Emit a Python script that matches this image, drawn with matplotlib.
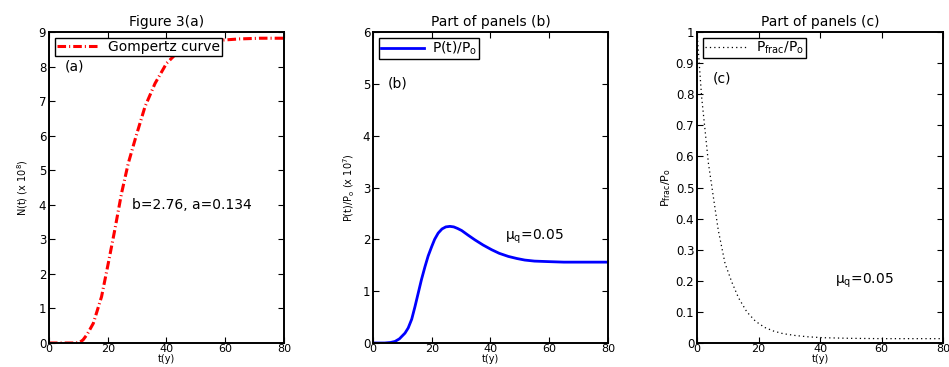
import matplotlib
matplotlib.use('Agg')
import matplotlib.pyplot as plt

plt.rcParams['font.family'] = ['DejaVu Sans']
plt.rcParams['mathtext.default'] = 'regular'

# Panel (a): Gompertz curve, N(t) in units of 1e8
t_gomp = [0, 9, 10.5, 11.6, 13, 15.1, 17.9, 20.2, 22.4, 24.7, 27.0, 29.6,
          32.7, 36.1, 40.0, 43.4, 47, 52, 58, 65, 72, 80]
n_gomp = [0, 0, 0.02, 0.09, 0.25, 0.57, 1.34, 2.31, 3.27, 4.33, 5.2, 5.97,
          6.84, 7.51, 8.09, 8.38, 8.55, 8.68, 8.76, 8.8, 8.82, 8.82]

# Panel (b): P(t)/P0 in units of 1e7
t_p = [0, 4, 6, 7.5, 9, 10.9, 12, 13.2, 14.3, 15.4, 16.5, 17.7, 18.8, 20, 21,
       22.2, 23.5, 24.8, 26.2, 27.5, 28.8, 30.2, 32.4, 34.7, 37.5, 40.4, 43,
       46.1, 49, 51.7, 55, 59.7, 65, 70, 80]
p_ratio = [0, 0, 0.01, 0.03, 0.08, 0.19, 0.29, 0.46, 0.70, 0.96, 1.22, 1.47,
           1.68, 1.86, 2.0, 2.12, 2.2, 2.24, 2.25, 2.24, 2.21, 2.17, 2.08,
           1.99, 1.89, 1.80, 1.73, 1.67, 1.63, 1.60, 1.58, 1.57, 1.56, 1.56,
           1.56]

# Panel (c): Pfrac/P0
t_frac = [0, 0.7, 1.5, 2.6, 3.7, 5.3, 6.9, 9.1, 11.3, 13.5, 16.2, 19, 22, 25,
          28, 32, 36, 41, 50, 60, 70, 80]
p_frac = [1.0, 0.90, 0.79, 0.685, 0.578, 0.47, 0.363, 0.256, 0.196, 0.145,
          0.10, 0.07, 0.05, 0.038, 0.03, 0.024, 0.02, 0.017, 0.015, 0.014,
          0.014, 0.014]

x_ticks = [0, 20, 40, 60, 80]

fig = plt.figure(figsize=(9.49, 3.67), dpi=100)
ax1 = fig.add_axes([0.0516, 0.0654, 0.2476, 0.8474])
ax2 = fig.add_axes([0.3930, 0.0654, 0.2476, 0.8474])
ax3 = fig.add_axes([0.7345, 0.0654, 0.2592, 0.8474])


def style_axes(ax):
    for s in ax.spines.values():
        s.set_linewidth(1.4)
    ax.tick_params(direction='in', top=True, right=True, length=4,
                   width=0.8, labelsize=8.5, pad=2)
    ax.tick_params(axis='x', labelsize=8, pad=1)
    ax.set_xlim(0, 80)
    ax.set_xticks(x_ticks)
    ax.set_xlabel('t(y)', fontsize=7, labelpad=0)


def make_legend(ax):
    leg = ax.legend(loc='upper left', fontsize=10, handlelength=3.1,
                    handletextpad=0.6, borderaxespad=0.45, borderpad=0.12,
                    fancybox=False, framealpha=1, edgecolor='black')
    leg.get_frame().set_linewidth(1.0)


# (a)
line, = ax1.plot(t_gomp, n_gomp, color='red', lw=2.2, label='Gompertz curve')
line.set_dashes([2.8, 1.0, 0.35, 1.0])
style_axes(ax1)
ax1.set_ylim(0, 9)
ax1.set_yticks(range(0, 10))
ax1.set_title('Figure 3(a)', fontsize=10, pad=4)
ax1.set_ylabel('N(t) (x 10$^8$)', fontsize=7, labelpad=6)
ax1.text(5.4, 8.0, '(a)', fontsize=10, va='center')
ax1.text(28.1, 4.0, 'b=2.76, a=0.134', fontsize=10, va='center')
make_legend(ax1)

# (b)
ax2.plot(t_p, p_ratio, color='blue', lw=2.0, label='P(t)/P$_o$')
style_axes(ax2)
ax2.set_ylim(0, 6)
ax2.set_yticks(range(0, 7))
ax2.set_title('Part of panels (b)', fontsize=10, pad=4)
ax2.set_ylabel('P(t)/P$_o$ (x 10$^7$)', fontsize=7, labelpad=4)
ax2.text(5.1, 5.0, '(b)', fontsize=10, va='center')
ax2.text(44.9, 2.05, '$\\mu_q$=0.05', fontsize=10, va='center')
make_legend(ax2)

# (c)
ax3.plot(t_frac, p_frac, color='black', lw=0.9, linestyle=(0, (1, 2.5)),
         label='P$_{frac}$/P$_o$')
style_axes(ax3)
ax3.set_ylim(0, 1)
ax3.set_yticks([0, 0.1, 0.2, 0.3, 0.4, 0.5, 0.6, 0.7, 0.8, 0.9, 1])
ax3.set_yticklabels(['0', '0.1', '0.2', '0.3', '0.4', '0.5', '0.6', '0.7',
                     '0.8', '0.9', '1'])
ax3.set_title('Part of panels (c)', fontsize=10, pad=4)
ax3.set_ylabel('P$_{frac}$/P$_o$', fontsize=8, labelpad=2)
ax3.text(5.1, 0.85, '(c)', fontsize=10, va='center')
ax3.text(44.9, 0.2, '$\\mu_q$=0.05', fontsize=10, va='center')
make_legend(ax3)

fig.savefig('out.png', dpi=100)
